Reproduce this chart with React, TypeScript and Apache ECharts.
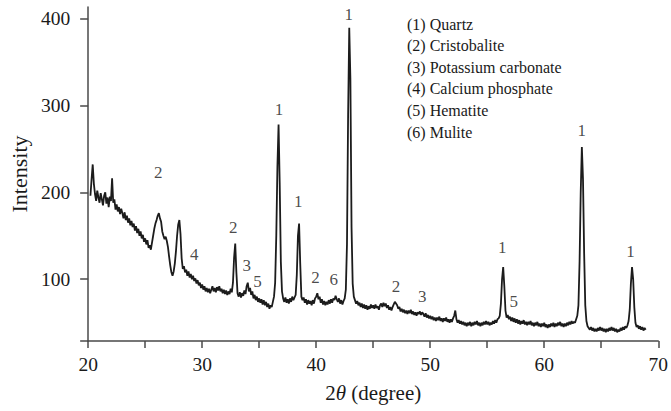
import React, { useEffect, useRef } from "react";
import * as echarts from "echarts";

// 2θ sampling grid: start and step of the scan (degrees)
const scanStart = 20.2;
const scanStep = 0.1;

// Intensity, one value per 0.1° from 20.2° to 68.9°
const intensity = [
  196, 215, 232, 210, 198, 190, 202, 194, // 20.2-20.9
  188, 199, 192, 185, 196, 200, 187, 194, 183, 195, // 21
  190, 216, 188, 192, 180, 186, 178, 183, 175, 181, // 22
  176, 170, 177, 168, 173, 165, 170, 162, 167, 160, // 23
  164, 156, 161, 153, 158, 150, 155, 147, 151, 143, // 24
  147, 140, 145, 136, 139, 134, 142, 150, 158, 164, // 25
  168, 173, 176, 170, 166, 155, 150, 146, 149, 144, // 26
  137, 126, 116, 108, 104, 109, 118, 132, 150, 163, // 27
  168, 152, 124, 112, 115, 108, 111, 104, 109, 102, // 28
  106, 100, 104, 98, 101, 95, 99, 93, 96, 90, // 29
  94, 88, 92, 86, 90, 85, 89, 84, 88, 92, // 30
  86, 90, 85, 91, 87, 92, 86, 89, 84, 88, // 31
  83, 87, 82, 86, 83, 89, 85, 96, 125, 141, // 32
  108, 84, 80, 85, 79, 84, 81, 87, 83, 92, // 33
  96, 86, 90, 82, 86, 78, 82, 76, 80, 74, // 34
  78, 73, 77, 71, 76, 70, 74, 68, 72, 66, // 35
  70, 68, 74, 80, 96, 150, 230, 278, 210, 120, // 36
  86, 78, 74, 79, 73, 77, 72, 78, 74, 80, // 37
  76, 79, 82, 105, 150, 164, 118, 80, 76, 79, // 38
  73, 77, 71, 76, 72, 75, 70, 76, 72, 78, // 39
  80, 84, 77, 80, 73, 77, 71, 75, 70, 74, // 40
  71, 76, 72, 77, 73, 78, 76, 81, 77, 74, // 41
  78, 72, 76, 71, 75, 78, 88, 140, 290, 389, // 42
  330, 160, 95, 80, 76, 72, 75, 70, 73, 68, // 43
  72, 67, 71, 66, 70, 65, 69, 66, 71, 67, // 44
  70, 66, 71, 67, 69, 65, 70, 72, 68, 73, // 45
  69, 72, 67, 70, 65, 68, 64, 68, 71, 74, // 46
  72, 70, 66, 68, 63, 66, 62, 65, 61, 64, // 47
  60, 64, 61, 65, 60, 63, 59, 62, 58, 62, // 48
  60, 63, 59, 62, 60, 57, 61, 56, 59, 55, // 49
  58, 54, 57, 53, 56, 52, 56, 53, 57, 52, // 50
  55, 51, 55, 52, 56, 51, 54, 50, 54, 51, // 51
  55, 58, 64, 54, 50, 53, 49, 52, 48, 51, // 52
  47, 50, 46, 50, 47, 51, 46, 50, 47, 51, // 53
  48, 52, 47, 50, 46, 50, 47, 51, 48, 52, // 54
  48, 51, 47, 50, 48, 52, 49, 53, 50, 54, // 55
  55, 58, 72, 100, 114, 92, 64, 56, 59, 54, // 56
  57, 52, 56, 51, 55, 50, 54, 49, 53, 48, // 57
  52, 49, 53, 48, 51, 47, 51, 48, 52, 47, // 58
  50, 46, 50, 47, 51, 46, 49, 45, 49, 46, // 59
  50, 45, 48, 44, 48, 45, 49, 46, 50, 45, // 60
  49, 46, 50, 47, 51, 46, 49, 45, 49, 46, // 61
  50, 47, 51, 48, 52, 49, 51, 50, 54, 58, // 62
  70, 120, 200, 252, 215, 130, 70, 52, 46, 44, // 63
  42, 45, 41, 44, 40, 43, 40, 44, 41, 45, // 64
  41, 44, 40, 43, 39, 43, 40, 44, 41, 45, // 65
  41, 44, 40, 43, 39, 42, 40, 44, 41, 45, // 66
  42, 46, 44, 47, 52, 65, 95, 114, 100, 68, // 67
  50, 45, 47, 43, 46, 42, 45, 41, 44, 42, // 68
];

// Peak annotations: 2θ, intensity position, phase number
const peakLabelX = [26.2, 29.36, 32.77, 33.96, 34.9, 36.78, 38.47, 39.98, 41.58, 42.89, 47.05, 49.35, 56.36, 57.37, 63.34, 67.6];
const peakLabelY = [222, 128, 159, 115, 96.5, 295, 189, 101, 99, 404, 91.5, 80, 135.7, 73.5, 270.7, 131.8];
const peakLabelText = ["2", "4", "2", "3", "5", "1", "1", "2", "6", "1", "2", "3", "1", "5", "1", "1"];

const legendLines = [
  "(1) Quartz",
  "(2) Cristobalite",
  "(3) Potassium carbonate",
  "(4) Calcium phosphate",
  "(5) Hematite",
  "(6) Mulite",
];

const xTickLabels = [20, 30, 40, 50, 60, 70];
const yTickLabels = [100, 200, 300, 400];
const yMin = 29;
const yMax = 413;

const FONT = "'Liberation Serif', 'Times New Roman', serif";
const INK = "#1a1a1a";

export default function App() {
  const ref = useRef<HTMLDivElement>(null);

  useEffect(() => {
    if (!ref.current) return;
    const chart = echarts.init(ref.current, undefined, { renderer: "svg" });

    const lineData = intensity.map((v, i) => [
      Math.round((scanStart + i * scanStep) * 100) / 100,
      v,
    ]);
    const labelData = peakLabelX.map((x, i) => ({
      value: [x, peakLabelY[i]],
      name: peakLabelText[i],
    }));

    chart.setOption({
      animation: false,
      backgroundColor: "#ffffff",
      grid: { left: 86, right: 12, top: 7, bottom: 70 },
      xAxis: {
        type: "value",
        min: 20,
        max: 70,
        interval: 5,
        name: "2{i|θ} (degree)",
        nameLocation: "middle",
        nameGap: 41,
        nameTextStyle: {
          fontFamily: FONT,
          fontSize: 21,
          color: INK,
          rich: {
            i: { fontFamily: FONT, fontSize: 21, fontStyle: "italic", color: INK },
          },
        },
        axisLine: { show: true, lineStyle: { color: "#4a4a4a", width: 1.5 } },
        axisTick: { show: true, length: 7, lineStyle: { color: "#4a4a4a", width: 1.5 } },
        axisLabel: {
          customValues: xTickLabels,
          margin: 13,
          fontFamily: FONT,
          fontSize: 19.5,
          color: INK,
        },
        splitLine: { show: false },
      },
      yAxis: {
        type: "value",
        min: yMin,
        max: yMax,
        name: "Intensity",
        nameLocation: "middle",
        nameGap: 52,
        nameTextStyle: { fontFamily: FONT, fontSize: 22, color: INK },
        axisLine: { show: true, lineStyle: { color: "#4a4a4a", width: 1.5 } },
        axisTick: {
          show: true,
          length: 8,
          customValues: [yMin, ...yTickLabels],
          lineStyle: { color: "#4a4a4a", width: 1.5 },
        },
        axisLabel: {
          customValues: yTickLabels,
          margin: 18,
          fontFamily: FONT,
          fontSize: 19.5,
          color: INK,
        },
        splitLine: { show: false },
      },
      series: [
        {
          type: "line",
          data: lineData,
          showSymbol: false,
          symbol: "none",
          lineStyle: { color: "#1c1c1c", width: 1.8 },
          z: 2,
        },
        {
          type: "scatter",
          data: labelData,
          symbol: "circle",
          symbolSize: 1,
          itemStyle: { color: "rgba(0,0,0,0)" },
          label: {
            show: true,
            position: [0, 0],
            align: "center",
            verticalAlign: "middle",
            formatter: "{b}",
            fontFamily: FONT,
            fontSize: 17,
            color: INK,
            textBorderWidth: 0,
            textBorderColor: "transparent",
          },
          z: 3,
        },
      ],
      graphic: legendLines.map((t, i) => ({
        type: "text",
        left: 407,
        top: 16 + i * 21.6,
        style: {
          text: t,
          font: `16px ${FONT}`,
          fill: INK,
        },
      })),
    });

    return () => chart.dispose();
  }, []);

  return (
    <div
      ref={ref}
      style={{ position: "fixed", left: 0, top: 0, width: 671, height: 411 }}
    />
  );
}
